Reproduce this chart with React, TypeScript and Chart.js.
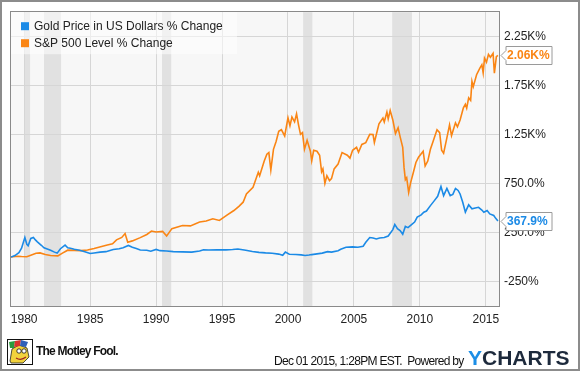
import React, { useEffect, useRef } from "react";
import { Chart, registerables } from "chart.js";

Chart.register(...registerables);

const seriesNames = ["Gold Price in US Dollars % Change", "S&P 500 Level % Change"];
const seriesColors = ["#1b8ae6", "#fa8514"];
const endLabels = ["367.9%", "2.06K%"];

const goldYears = [
  1979.0, 1979.3, 1979.6, 1979.8, 1980.05, 1980.2, 1980.3, 1980.5, 1980.7, 1980.85,
  1981.0, 1981.3, 1981.5, 1981.8, 1982.0, 1982.3, 1982.5, 1982.75, 1983.1, 1983.3,
  1983.5, 1983.8, 1984.2, 1984.6, 1985.0, 1985.3, 1985.75, 1986.2, 1986.75, 1987.2,
  1987.5, 1987.9, 1988.2, 1988.5, 1988.8, 1989.3, 1989.6, 1990.0, 1990.3, 1990.8,
  1991.3, 1992.0, 1992.7, 1993.3, 1993.6, 1994.0, 1994.6, 1995.3, 1995.8, 1996.2,
  1996.8, 1997.3, 1997.8, 1998.3, 1998.8, 1999.3, 1999.6, 1999.8, 2000.1, 2000.6,
  2001.0, 2001.3, 2001.6, 2001.8, 2002.2, 2002.6, 2003.0, 2003.3, 2003.8, 2004.0,
  2004.4, 2004.9, 2005.3, 2005.7, 2005.9, 2006.2, 2006.45, 2006.7, 2006.95, 2007.3,
  2007.6, 2007.95, 2008.1, 2008.3, 2008.5, 2008.7, 2008.9, 2009.1, 2009.3, 2009.6,
  2009.8, 2010.1, 2010.3, 2010.5, 2010.8, 2011.1, 2011.35, 2011.6, 2011.8, 2012.05,
  2012.3, 2012.5, 2012.7, 2012.9, 2013.05, 2013.25, 2013.45, 2013.7, 2013.95, 2014.2,
  2014.45, 2014.7, 2014.85, 2015.1, 2015.3, 2015.6, 2015.75, 2015.92,
];
const goldValues = [
  0, 15, 45, 90, 200, 130, 115, 190, 200, 175,
  155, 120, 95, 80, 70, 50, 40, 85, 122, 95,
  90, 80, 70, 55, 36, 42, 50, 55, 77, 85,
  95, 118, 100, 87, 72, 70, 60, 78, 65, 62,
  55, 53, 50, 62, 75, 72, 75, 73, 77, 82,
  70, 57, 48, 42, 38, 30, 18, 50, 28, 26,
  22, 15, 20, 25, 32, 40, 55, 50, 65, 80,
  100, 104, 100, 110, 150, 199, 195, 185, 195, 200,
  215, 280, 333, 290, 270, 232, 313, 300, 323, 357,
  408, 430, 458, 470, 525, 576, 620, 720, 627, 700,
  627, 640, 700, 680, 644, 560, 458, 533, 492, 500,
  508, 480, 458, 475, 440, 424, 395, 367.9,
];

const spYears = [
  1979.0, 1979.5, 1979.8, 1980.2, 1980.5, 1980.9, 1981.2, 1981.6, 1982.0, 1982.55,
  1982.9, 1983.3, 1983.8, 1984.3, 1984.8, 1985.3, 1985.8, 1986.3, 1986.7, 1987.0,
  1987.4, 1987.65, 1987.85, 1988.2, 1988.8, 1989.3, 1989.65, 1990.0, 1990.5, 1990.8,
  1991.2, 1992.0, 1992.6, 1993.3, 1993.8, 1994.3, 1994.8, 1995.4, 1995.9, 1996.3,
  1996.6, 1996.85, 1997.35, 1997.75, 1997.85, 1998.2, 1998.4, 1998.55, 1998.7, 1998.9,
  1999.1, 1999.3, 1999.5, 1999.75, 2000.0, 2000.15, 2000.3, 2000.5, 2000.65, 2000.8,
  2000.95, 2001.1, 2001.25, 2001.45, 2001.7, 2001.8, 2001.95, 2002.2, 2002.4, 2002.55,
  2002.65, 2002.8, 2002.95, 2003.15, 2003.3, 2003.5, 2003.8, 2004.1, 2004.5, 2004.7,
  2004.9, 2005.2, 2005.35, 2005.6, 2005.9, 2006.2, 2006.45, 2006.55, 2006.9, 2007.2,
  2007.3, 2007.5, 2007.6, 2007.75, 2007.95, 2008.15, 2008.35, 2008.5, 2008.7, 2008.8,
  2008.9, 2009.0, 2009.15, 2009.3, 2009.5, 2009.7, 2009.9, 2010.25, 2010.4, 2010.6,
  2010.8, 2011.0, 2011.3, 2011.5, 2011.65, 2011.8, 2012.0, 2012.25, 2012.4, 2012.7,
  2012.85, 2013.05, 2013.3, 2013.45, 2013.55, 2013.7, 2013.85, 2013.95, 2014.05, 2014.3,
  2014.55, 2014.7, 2014.8, 2014.9, 2015.05, 2015.2, 2015.35, 2015.55, 2015.65, 2015.8,
  2015.92,
];
const spValues = [
  0, 8, 5, 3, 18, 38, 42, 25, 15, 12,
  40, 70, 68, 65, 72, 87, 105, 122, 135, 175,
  200, 240, 152, 165, 198, 230, 265, 255, 262, 215,
  290, 322, 318, 357, 368, 390, 374, 430, 475, 520,
  560, 645, 713, 865, 830, 980, 1050, 1067, 888, 1100,
  1180, 1285, 1300, 1236, 1422, 1340, 1430, 1380, 1462, 1350,
  1253, 1270, 1100, 1192, 1080, 982, 1090, 1080, 1040, 870,
  900, 753, 830, 780, 800, 900, 950, 1067, 1040, 1010,
  1090, 1120, 1070, 1150, 1168, 1253, 1250, 1170, 1360, 1420,
  1380, 1480, 1410, 1496, 1400, 1260, 1320, 1230, 1120, 915,
  790, 810, 660, 760, 860, 966, 1020, 1080, 930, 980,
  1100, 1180, 1300, 1270, 1090, 1060, 1186, 1350, 1240, 1370,
  1330, 1400, 1523, 1560, 1520, 1625, 1600, 1794, 1740, 1862,
  1930, 1963, 1880, 2030, 1990, 2070, 2040, 2080, 1878, 2047,
  2060,
];

const xTicks = [1980, 1985, 1990, 1995, 2000, 2005, 2010, 2015];
const yTicks = [-250, 250, 750, 1250, 1750, 2250];
const yTickLabels = ["-250%", "250.0%", "750.0%", "1.25K%", "1.75K%", "2.25K%"];
const recessions: [number, number][] = [
  [1980.0, 1980.45],
  [1981.5, 1982.8],
  [1990.45, 1991.15],
  [2001.15, 2001.85],
  [2007.9, 2009.4],
];

const FONT = "'Liberation Sans', Arial, sans-serif";

export default function App() {
  const ref = useRef<HTMLCanvasElement | null>(null);

  useEffect(() => {
    document.body.style.margin = "0";
    const canvas = ref.current;
    if (!canvas) return;

    const backgroundPlugin = {
      id: "bgBands",
      beforeDraw(chart: any) {
        const { ctx, chartArea, scales } = chart;
        ctx.save();
        ctx.fillStyle = "#f7f7f7";
        ctx.fillRect(chartArea.left, chartArea.top, chartArea.right - chartArea.left, chartArea.bottom - chartArea.top);
        ctx.fillStyle = "#e1e1e1";
        for (const [a, b] of recessions) {
          const x1 = scales.x.getPixelForValue(a);
          const x2 = scales.x.getPixelForValue(b);
          ctx.fillRect(x1, chartArea.top, x2 - x1, chartArea.bottom - chartArea.top);
        }
        ctx.restore();
      },
    };

    const overlayPlugin = {
      id: "overlay",
      afterDraw(chart: any) {
        const { ctx, chartArea, scales } = chart;
        ctx.save();
        // frame
        ctx.strokeStyle = "#8a8a8a";
        ctx.lineWidth = 1;
        ctx.strokeRect(
          Math.round(chartArea.left) - 0.5,
          Math.round(chartArea.top) - 0.5,
          Math.round(chartArea.right - chartArea.left) + 1,
          Math.round(chartArea.bottom - chartArea.top) + 1
        );
        // legend
        ctx.fillStyle = "rgba(255,255,255,0.55)";
        ctx.fillRect(chartArea.left, chartArea.top, 226, 42);
        ctx.font = "12px " + FONT;
        ctx.textBaseline = "middle";
        ctx.textAlign = "left";
        seriesNames.forEach((name, i) => {
          const y = chartArea.top + 10 + i * 17;
          ctx.fillStyle = seriesColors[i];
          ctx.fillRect(chartArea.left + 10, y, 8, 8);
          ctx.fillStyle = "#222";
          ctx.fillText(name, chartArea.left + 23, y + 4.5);
        });
        // end value labels
        const datasets = chart.data.datasets;
        datasets.forEach((ds: any, i: number) => {
          const last = ds.data[ds.data.length - 1];
          const y = Math.round(scales.y.getPixelForValue(last.y)) + 0.5;
          const tip = chartArea.right + 2;
          const left = tip + 5;
          const right = left + 46;
          const top = y - 9;
          const bottom = y + 9;
          ctx.beginPath();
          ctx.moveTo(tip, y);
          ctx.lineTo(left, y - 5);
          ctx.lineTo(left, top);
          ctx.lineTo(right, top);
          ctx.lineTo(right, bottom);
          ctx.lineTo(left, bottom);
          ctx.lineTo(left, y + 5);
          ctx.closePath();
          ctx.fillStyle = "#ffffff";
          ctx.fill();
          ctx.strokeStyle = "#9a9a9a";
          ctx.stroke();
          ctx.fillStyle = seriesColors[i];
          ctx.font = "bold 12px " + FONT;
          ctx.textBaseline = "middle";
          ctx.fillText(endLabels[i], left + 1, y + 0.5);
        });
        ctx.restore();
      },
    };

    const chart = new Chart(canvas, {
      type: "line",
      data: {
        datasets: [
          {
            label: seriesNames[0],
            data: goldYears.map((x, i) => ({ x, y: goldValues[i] })),
            borderColor: seriesColors[0],
            borderWidth: 1.6,
            pointRadius: 0,
            tension: 0,
            fill: false,
          },
          {
            label: seriesNames[1],
            data: spYears.map((x, i) => ({ x, y: spValues[i] })),
            borderColor: seriesColors[1],
            borderWidth: 1.6,
            pointRadius: 0,
            tension: 0,
            fill: false,
          },
        ],
      },
      options: {
        animation: false,
        responsive: false,
        maintainAspectRatio: false,
        layout: { padding: { left: 11, top: 11, right: 0, bottom: 0 } },
        plugins: { legend: { display: false }, tooltip: { enabled: false }, title: { display: false } },
        scales: {
          x: {
            type: "linear",
            min: 1979,
            max: 2016,
            afterBuildTicks: (scale: any) => {
              scale.ticks = xTicks.map((v) => ({ value: v }));
            },
            afterFit: (scale: any) => {
              scale.height = 65;
              scale.paddingLeft = 0;
              scale.paddingRight = 0;
            },
            grid: { color: "#d6d6d6", drawTicks: false, lineWidth: 1 },
            border: { display: false },
            ticks: {
              padding: 6,
              maxRotation: 0,
              autoSkip: false,
              color: "#222",
              font: { family: FONT, size: 12 },
              callback: (v: any) => String(v),
            },
          },
          y: {
            position: "right",
            min: -500,
            max: 2500,
            afterBuildTicks: (scale: any) => {
              scale.ticks = yTicks.map((v) => ({ value: v }));
            },
            afterFit: (scale: any) => {
              scale.width = 81;
            },
            grid: { color: "#d6d6d6", drawTicks: false, lineWidth: 1 },
            border: { display: false },
            ticks: {
              padding: 5,
              color: "#222",
              font: { family: FONT, size: 12 },
              callback: (v: any) => {
                const i = yTicks.indexOf(Number(v));
                return i >= 0 ? yTickLabels[i] : "";
              },
            },
          },
        },
      },
      plugins: [backgroundPlugin, overlayPlugin],
    });

    return () => chart.destroy();
  }, []);

  return (
    <div style={{ position: "relative", width: 580, height: 371, background: "#fff", overflow: "hidden" }}>
      <canvas ref={ref} width={580} height={371} style={{ position: "absolute", left: 0, top: 0, width: 580, height: 371 }} />
      <svg width={26} height={26} viewBox="0 0 26 26" style={{ position: "absolute", left: 7, top: 339 }}>
        <rect x={0.5} y={0.5} width={25} height={25} fill="#fff" stroke="#111" />
        <path d="M3 22 L5 10 L12 6 L20 9 L22 18 L16 24 L4 24 Z" fill="#f2d23c" stroke="#222" strokeWidth={0.8} />
        <path d="M2 3 L8 2 L7 9 L3 9 Z" fill="#2a9b3c" />
        <path d="M8 2 L14 1 L13 7 L7 8 Z" fill="#d8332b" />
        <path d="M14 1 L21 3 L19 8 L13 7 Z" fill="#2f5fb8" />
        <circle cx={12} cy={12} r={2.2} fill="#fff" stroke="#111" strokeWidth={0.8} />
        <circle cx={17} cy={12} r={2.2} fill="#fff" stroke="#111" strokeWidth={0.8} />
        <path d="M9 19 Q14 22 19 18" stroke="#a02020" strokeWidth={1.2} fill="none" />
      </svg>
      <div
        style={{
          position: "absolute",
          left: 36,
          top: 345,
          fontFamily: FONT,
          fontWeight: "bold",
          fontSize: 12,
          lineHeight: "12px",
          letterSpacing: "-0.8px",
          color: "#111",
          whiteSpace: "nowrap",
        }}
      >
        The Motley Fool.
      </div>
      <div
        style={{
          position: "absolute",
          left: 274,
          top: 355,
          fontFamily: FONT,
          fontSize: 12,
          lineHeight: "12px",
          letterSpacing: "-0.7px",
          color: "#111",
          whiteSpace: "pre",
        }}
      >
        {"Dec 01 2015, 1:28PM EST.  Powered by"}
      </div>
      <div
        style={{
          position: "absolute",
          left: 468,
          top: 347,
          fontFamily: FONT,
          fontWeight: "bold",
          fontSize: 21,
          lineHeight: "21px",
          whiteSpace: "nowrap",
        }}
      >
        <span style={{ color: "#1c8ee6" }}>Y</span>
        <span style={{ color: "#1d2a3c" }}>CHARTS</span>
      </div>
      <div
        style={{
          position: "absolute",
          left: 0,
          top: 0,
          width: 580,
          height: 371,
          boxSizing: "border-box",
          border: "2px solid #8c8c8c",
          pointerEvents: "none",
        }}
      />
    </div>
  );
}
